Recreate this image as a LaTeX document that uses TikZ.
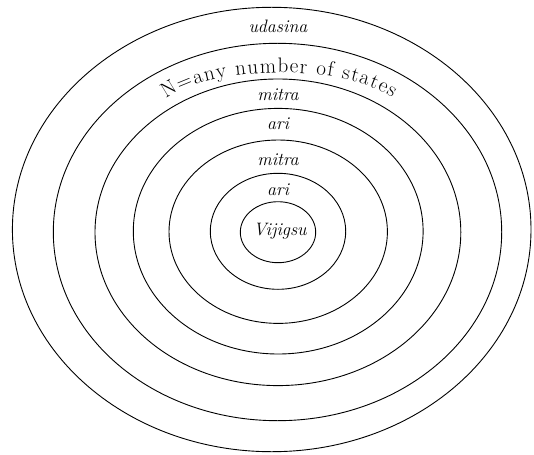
\documentclass[tikz,border=0pt]{standalone}
\usepackage{fontspec}
\usetikzlibrary{decorations.text}
\begin{document}
\begin{tikzpicture}[x=1pt,y=-1pt,
  ring/.style={draw=black, line width=0.9pt},
  lab/.style={font=\fontsize{18}{20}\selectfont\itshape, anchor=base, inner sep=0pt}]
\useasboundingbox (0,0) rectangle (534,454);
% concentric rings
\draw[ring] (271.7,229.5) ellipse [x radius=259.3pt, y radius=222.2pt];
\draw[ring] (277.5,232.0) ellipse [x radius=224.2pt, y radius=188.7pt];
\draw[ring] (277.9,232.3) ellipse [x radius=182.9pt, y radius=153.3pt];
\draw[ring] (278.2,231.2) ellipse [x radius=144.9pt, y radius=122.8pt];
\draw[ring] (278.2,231.7) ellipse [x radius=109.2pt, y radius=91.7pt];
\draw[ring] (278.0,231.3) ellipse [x radius=67.7pt, y radius=58.0pt];
\draw[ring] (278.0,232.2) ellipse [x radius=37.7pt, y radius=30.5pt];
% labels
\node[lab] (udasina) at (278,32.3) {udasina};
\node[lab] (mitraA) at (278,101) {mitra};
\node[lab] (ariA) at (278,130) {ari};
\node[lab] (mitraB) at (278,166) {mitra};
\node[lab] (ariB) at (278,195) {ari};
\node[lab] (vijigsu) at (280,235) {Vijigsu};
% curved text
\coordinate (arcL) at (166,99);
\coordinate (arcR) at (392,98);
\path[decorate, decoration={text along path, text align=fit to path,
  text={|\fontsize{21}{24}\selectfont|N=any number of states}}]
  (arcL) .. controls (212,64) and (345,64) .. (arcR);
\end{tikzpicture}
\end{document}
